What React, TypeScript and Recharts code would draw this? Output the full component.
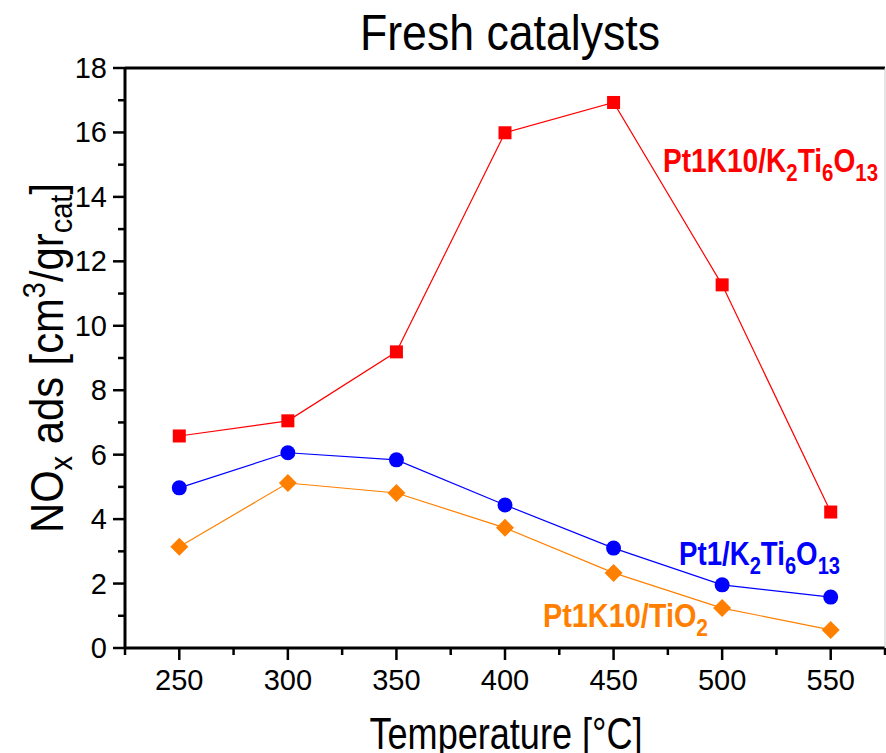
import React from "react";
import { LineChart, Line, XAxis, YAxis, Customized } from "recharts";

// temperatures [°C]
const temps = [250, 300, 350, 400, 450, 500, 550];
// NOx adsorbed [cm3/gr_cat]
const pt1k10K2Ti6O13 = [6.58, 7.05, 9.19, 15.99, 16.93, 11.27, 4.22];
const pt1K2Ti6O13 = [4.97, 6.06, 5.84, 4.44, 3.1, 1.96, 1.58];
const pt1k10TiO2 = [3.14, 5.12, 4.81, 3.73, 2.33, 1.24, 0.56];

const xTicks = [225, 250, 275, 300, 325, 350, 375, 400, 425, 450, 475, 500, 525, 550, 575];
const xMajor = [250, 300, 350, 400, 450, 500, 550];
const yTicks = [0, 1, 2, 3, 4, 5, 6, 7, 8, 9, 10, 11, 12, 13, 14, 15, 16, 17, 18];
const yMajor = [0, 2, 4, 6, 8, 10, 12, 14, 16, 18];

const data = temps.map((t, i) => ({
  temp: t,
  redSeries: pt1k10K2Ti6O13[i],
  blueSeries: pt1K2Ti6O13[i],
  orangeSeries: pt1k10TiO2[i],
}));

const FONT = "'Liberation Sans', Arial, Helvetica, sans-serif";
const RED = "#ff0000";
const BLUE = "#0000ff";
const ORANGE = "#ff8000";

const XTick = (props: any) => {
  const { x, y, payload } = props;
  const major = xMajor.includes(payload.value);
  return (
    <g>
      <line x1={x} x2={x} y1={y} y2={y + (major ? 12 : 7)} stroke="#000" strokeWidth={2.5} />
      {major && (
        <text x={x} y={y + 42} textAnchor="middle" fontSize={29} fontFamily={FONT} fill="#000">
          {payload.value}
        </text>
      )}
    </g>
  );
};

const YTick = (props: any) => {
  const { x, y, payload } = props;
  const major = yMajor.includes(payload.value);
  return (
    <g>
      <line x1={x - (major ? 12 : 7)} x2={x} y1={y} y2={y} stroke="#000" strokeWidth={2.5} />
      {major && (
        <text x={x - 18} y={y + 10} textAnchor="end" fontSize={29} fontFamily={FONT} fill="#000">
          {payload.value}
        </text>
      )}
    </g>
  );
};

const squareDot = (p: any) => (
  <rect key={`sq-${p.index}`} x={p.cx - 6.5} y={p.cy - 6.5} width={13} height={13} fill={RED} />
);
const circleDot = (p: any) => (
  <circle key={`ci-${p.index}`} cx={p.cx} cy={p.cy} r={7.5} fill={BLUE} />
);
const diamondDot = (p: any) => (
  <polygon
    key={`di-${p.index}`}
    points={`${p.cx},${p.cy - 9} ${p.cx + 9},${p.cy} ${p.cx},${p.cy + 9} ${p.cx - 9},${p.cy}`}
    fill={ORANGE}
  />
);

const Annotations = () => (
  <g fontFamily={FONT}>
    <text x={510} y={50} textAnchor="middle" fontSize={50} textLength={300} lengthAdjust="spacingAndGlyphs" fill="#000">
      Fresh catalysts
    </text>
    <text x={506} y={749} textAnchor="middle" fontSize={45} textLength={273} lengthAdjust="spacingAndGlyphs" fill="#000">
      Temperature [°C]
    </text>
    <text
      transform="translate(63,358) rotate(-90)"
      x={0}
      y={0}
      textAnchor="middle"
      fontSize={46}
      textLength={350}
      lengthAdjust="spacingAndGlyphs"
      fill="#000"
    >
      NO
      <tspan fontSize={32} dy={9}>x</tspan>
      <tspan dy={-9}> ads [cm</tspan>
      <tspan fontSize={32} dy={-18}>3</tspan>
      <tspan dy={18}>/gr</tspan>
      <tspan fontSize={32} dy={9}>cat</tspan>
      <tspan dy={-9}>]</tspan>
    </text>
    <text x={663} y={172} fontSize={33} fontWeight="bold" fill={RED} textLength={215} lengthAdjust="spacingAndGlyphs">
      Pt1K10/K
      <tspan fontSize={24} dy={9}>2</tspan>
      <tspan dy={-9}>Ti</tspan>
      <tspan fontSize={24} dy={9}>6</tspan>
      <tspan dy={-9}>O</tspan>
      <tspan fontSize={24} dy={9}>13</tspan>
    </text>
    <text x={679} y={565} fontSize={33} fontWeight="bold" fill={BLUE} textLength={161} lengthAdjust="spacingAndGlyphs">
      Pt1/K
      <tspan fontSize={24} dy={9}>2</tspan>
      <tspan dy={-9}>Ti</tspan>
      <tspan fontSize={24} dy={9}>6</tspan>
      <tspan dy={-9}>O</tspan>
      <tspan fontSize={24} dy={9}>13</tspan>
    </text>
    <text x={543} y={627} fontSize={33} fontWeight="bold" fill={ORANGE} textLength={165} lengthAdjust="spacingAndGlyphs">
      Pt1K10/TiO
      <tspan fontSize={24} dy={9}>2</tspan>
    </text>
  </g>
);

export default function App() {
  return (
    <div style={{ position: "absolute", left: 0, top: 0, background: "#fff" }}>
      <LineChart width={886} height={753} data={data} margin={{ top: 67, right: 0, bottom: 104, left: 124 }}>
        <XAxis
          xAxisId="x"
          dataKey="temp"
          type="number"
          domain={[225, 575]}
          ticks={xTicks}
          interval={0}
          height={1}
          tickSize={0}
          tickMargin={0}
          tickLine={false}
          tick={<XTick />}
          axisLine={{ stroke: "#000", strokeWidth: 3 }}
        />
        <XAxis
          xAxisId="top"
          orientation="top"
          dataKey="temp"
          type="number"
          domain={[225, 575]}
          height={1}
          tick={false}
          tickLine={false}
          axisLine={{ stroke: "#000", strokeWidth: 3 }}
        />
        <YAxis
          yAxisId="y"
          type="number"
          domain={[0, 18]}
          ticks={yTicks}
          interval={0}
          width={1}
          tickSize={0}
          tickMargin={0}
          tickLine={false}
          tick={<YTick />}
          axisLine={{ stroke: "#000", strokeWidth: 3 }}
        />
        <YAxis
          yAxisId="right"
          orientation="right"
          type="number"
          domain={[0, 18]}
          width={1}
          tick={false}
          tickLine={false}
          axisLine={{ stroke: "#cccccc", strokeWidth: 1 }}
        />
        <Line
          xAxisId="x"
          yAxisId="y"
          dataKey="redSeries"
          type="linear"
          stroke={RED}
          strokeWidth={1.2}
          dot={squareDot}
          activeDot={false}
          isAnimationActive={false}
        />
        <Line
          xAxisId="x"
          yAxisId="y"
          dataKey="blueSeries"
          type="linear"
          stroke={BLUE}
          strokeWidth={1.2}
          dot={circleDot}
          activeDot={false}
          isAnimationActive={false}
        />
        <Line
          xAxisId="x"
          yAxisId="y"
          dataKey="orangeSeries"
          type="linear"
          stroke={ORANGE}
          strokeWidth={1.2}
          dot={diamondDot}
          activeDot={false}
          isAnimationActive={false}
        />
        <Customized component={Annotations} />
      </LineChart>
    </div>
  );
}
